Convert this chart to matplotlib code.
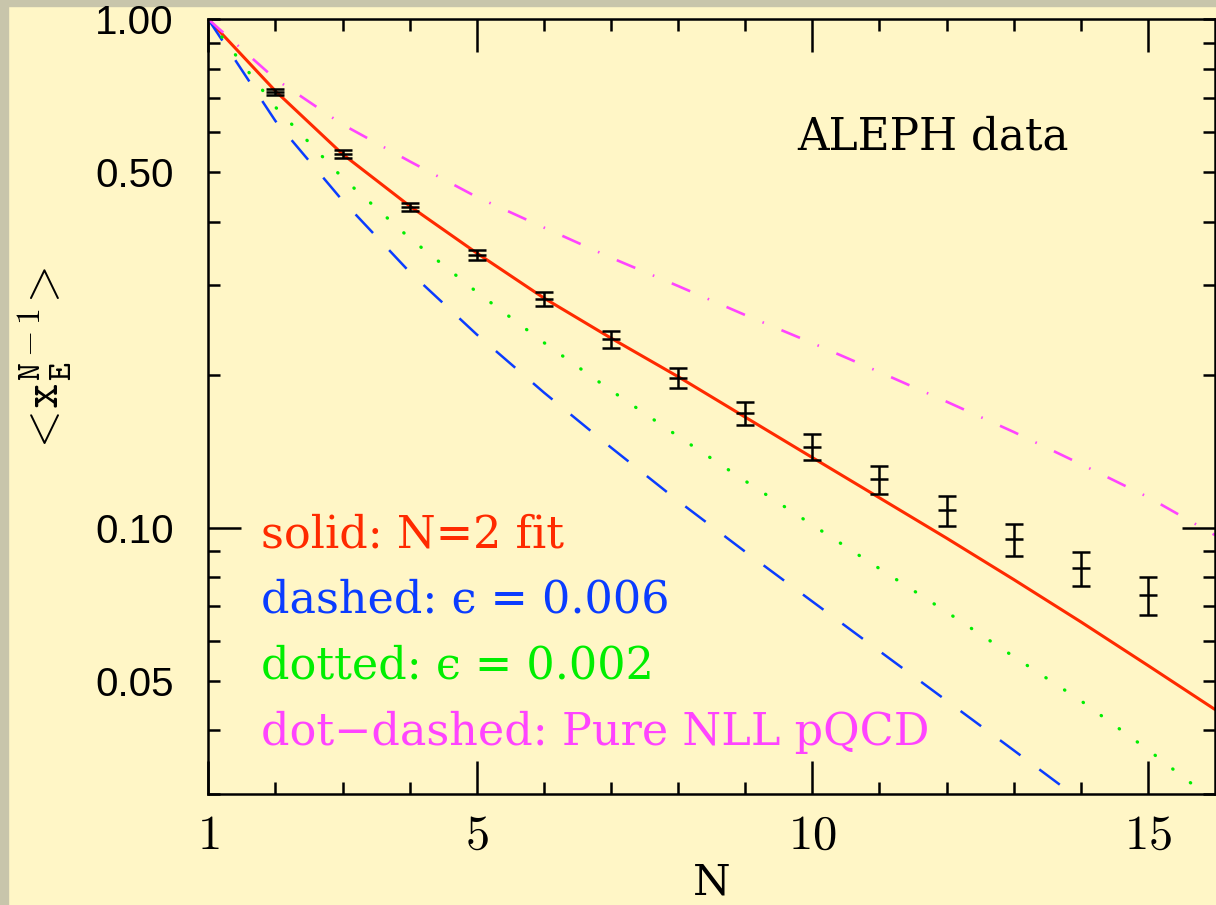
import matplotlib
matplotlib.use("Agg")
import matplotlib.pyplot as plt
from matplotlib.patches import Rectangle
from matplotlib.ticker import FixedLocator, FuncFormatter

# ---------------- data ----------------
N_curve = list(range(1, 17))
fit_n2 = [1.0, 0.7226, 0.543, 0.4293, 0.3469, 0.283, 0.236, 0.1982,
          0.1650, 0.1374, 0.1145, 0.0954, 0.0791, 0.0653, 0.0536, 0.0439]
eps_002 = [1.0, 0.672, 0.4878, 0.3713, 0.2908, 0.2313, 0.1862, 0.1513,
           0.1236, 0.1013, 0.0831, 0.0683, 0.0558, 0.0457, 0.0366, 0.0289]
pure_nll = [1.0, 0.763, 0.621, 0.5256, 0.4472, 0.3894, 0.3397, 0.2988,
            0.2620, 0.2308, 0.2024, 0.1770, 0.1543, 0.1334, 0.1149, 0.0967]

N_eps006 = list(range(1, 15))
eps_006 = [1.0, 0.631, 0.440, 0.3184, 0.2399, 0.1845, 0.1438, 0.1129,
           0.0897, 0.0716, 0.0572, 0.0457, 0.0365, 0.0291]

N_data = list(range(2, 16))
aleph = [0.718, 0.5425, 0.428, 0.344, 0.2818, 0.2348, 0.1972, 0.1679,
         0.1443, 0.1245, 0.1083, 0.0949, 0.0832, 0.0737]
aleph_err = [0.0098, 0.0098, 0.0078, 0.0078, 0.0089, 0.0090, 0.0089,
             0.0087, 0.0085, 0.0079, 0.0074, 0.0069, 0.0064, 0.0062]

y_label_vals = [1.0, 0.5, 0.1, 0.05]
y_label_text = ["1.00", "0.50", "0.10", "0.05"]
x_major = [1, 5, 10, 15]
x_minor = [2, 3, 4, 6, 7, 8, 9, 11, 12, 13, 14]
y_minor = [0.03, 0.04, 0.05, 0.06, 0.07, 0.08, 0.09,
           0.2, 0.3, 0.4, 0.5, 0.6, 0.7, 0.8, 0.9, 1.0]

legend_lines = ["solid: N=2 fit",
                "dashed: \u03f5 = 0.006",
                "dotted: \u03f5 = 0.002",
                "dot\u2212dashed: Pure NLL pQCD"]

BG = "#fff6c6"
RED = "#ff2a00"
BLUE = "#0a3cff"
GREEN = "#00ee00"
MAGENTA = "#ff44ff"
legend_colors = [RED, BLUE, GREEN, MAGENTA]

plt.rcParams["mathtext.fontset"] = "cm"

fig = plt.figure(figsize=(12.16, 9.05), dpi=100, facecolor=BG)
ax = fig.add_axes([0.1713, 0.1223, 0.9992 - 0.1713, 0.9787 - 0.1223])
ax.set_facecolor(BG)

# textured paper edge, left and top
fig.patches.append(Rectangle((0, 0), 8 / 1216, 1, transform=fig.transFigure,
                             color="#c8c5ab", zorder=-1))
fig.patches.append(Rectangle((0, 1 - 6 / 905), 1, 6 / 905, transform=fig.transFigure,
                             color="#c8c5ab", zorder=-1))

# ---------------- curves ----------------
ax.plot(N_curve, fit_n2, color=RED, lw=2.2, solid_capstyle="round")
ax.plot(N_eps006, eps_006, color=BLUE, lw=1.8, linestyle=(0, (10.2, 9.4)))
ax.plot(N_curve, eps_002, color=GREEN, lw=2.4, linestyle=(0, (0.1, 6.6)),
        dash_capstyle="round")
ax.plot(N_curve, pure_nll, color=MAGENTA, lw=1.9,
        linestyle=(0, (7.6, 7.2, 0.6, 7.2)))

ax.errorbar(N_data, aleph, yerr=aleph_err, fmt="_", color="k", ms=12.5,
            mew=1.8, elinewidth=1.8, capsize=6.2, capthick=1.8, zorder=5)

# ---------------- axes ----------------
ax.set_yscale("log")
ax.set_xlim(1, 16)
ax.set_ylim(0.0299, 1.0)

ax.xaxis.set_major_locator(FixedLocator(x_major))
ax.xaxis.set_minor_locator(FixedLocator(x_minor))
ax.xaxis.set_major_formatter(FuncFormatter(lambda v, p: r"$%d$" % round(v)))

ylabels = {round(v, 3): t for v, t in zip(y_label_vals, y_label_text)}
ax.yaxis.set_major_locator(FixedLocator([0.1]))
ax.yaxis.set_minor_locator(FixedLocator(y_minor))
ylab_fmt = FuncFormatter(lambda v, p: ylabels.get(round(v, 3), ""))
ax.yaxis.set_major_formatter(ylab_fmt)
ax.yaxis.set_minor_formatter(ylab_fmt)

ax.tick_params(which="both", direction="in", top=True, right=True,
               width=1.8, color="k")
ax.tick_params(which="major", length=24)
ax.tick_params(which="minor", length=8.4)
ax.tick_params(axis="x", which="both", labelsize=35, pad=12)
ax.tick_params(axis="y", which="both", labelsize=29, pad=25)
for lab in ax.get_yticklabels(which="both"):
    lab.set_fontfamily("Liberation Sans")

for sp in ax.spines.values():
    sp.set_linewidth(1.8)

fig.text(711.5 / 1216, 1 - 903 / 905, "N", ha="center", va="bottom",
         fontsize=31, family="DejaVu Serif")
fig.text(45 / 1216, 1 - 362 / 905,
         r"$<\!\mathtt{x}_{\mathtt{E}}^{\mathtt{N-1}}\!>$",
         rotation=90, ha="center", va="center", fontsize=35)

# ---------------- annotations ----------------
ax.text(0.5848, 0.8314, "ALEPH data", transform=ax.transAxes,
        fontsize=31.5, family=["DejaVu Serif", "DejaVu Sans"], va="baseline")
baselines = [0.319, 0.2352, 0.150, 0.0636]
for txt, col, yb in zip(legend_lines, legend_colors, baselines):
    ax.text(0.0524, yb, txt, transform=ax.transAxes, color=col, fontsize=32,
            family=["DejaVu Serif", "DejaVu Sans"], va="baseline")

fig.savefig("out.png", dpi=100, facecolor=BG)
